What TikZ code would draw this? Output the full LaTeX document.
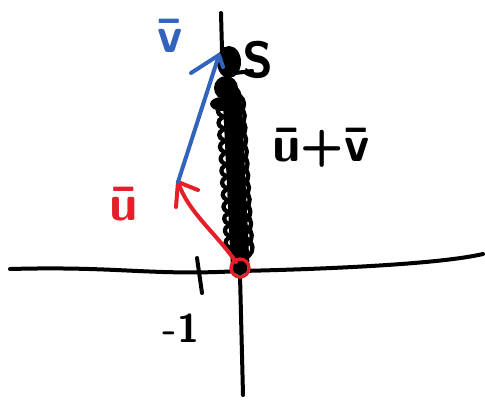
\documentclass[tikz,border=0pt]{standalone}
\usepackage{fontspec}
\usetikzlibrary{decorations.pathmorphing}
\begin{document}
\begin{tikzpicture}[x=0.75pt,y=-0.75pt,line cap=round,line join=round,
  ink/.style={line width=3pt},
  redink/.style={line width=3pt,draw={rgb,255:red,230;green,30;blue,40}},
  blueink/.style={line width=3pt,draw={rgb,255:red,50;green,100;blue,190}},
  lbl/.style={inner sep=0pt,font=\fontsize{38}{38}\selectfont\sffamily\bfseries}]
\definecolor{penred}{RGB}{230,30,40}
\definecolor{penblue}{RGB}{50,100,190}
\useasboundingbox (0,0) rectangle (485,401);
% axes
\coordinate (xl) at (10,269);
\coordinate (xr) at (483,254);
\coordinate (O) at (240,271);
\coordinate (yt) at (221,13);
\coordinate (yb) at (243,395);
\draw[ink] (xl) .. controls (120,266) and (150,276) .. (O) .. controls (330,269) and (440,264) .. (xr);
\draw[ink] (yt) -- (222,50);
\draw[ink] (240,275) -- (yb);
% tick
\coordinate (t1) at (197,258);
\coordinate (t2) at (202,293);
\draw[ink] (t1) -- (t2);
% scribble u+v
\coordinate (s1) at (232,95);
\coordinate (s2) at (240,262);
\draw[line width=14pt] (s1) -- (s2);
\draw[line width=3.2pt,decorate,decoration={coil,aspect=0.7,segment length=9pt,amplitude=10pt}] (230,92) -- (s2);
\fill (229,62) ellipse (12 and 16);
\fill (226,88) ellipse (12 and 12);
\fill (222,104) ellipse (12 and 7);
\draw[ink] (235,73) -- (252,71);
% red circle at origin
\fill (240,268) circle (7);
\draw[redink,line width=2.5pt] (240,268) circle (9);
% vector u (red)
\coordinate (ut) at (178,182);
\draw[redink] (236,262) .. controls (215,232) and (188,212) .. (ut);
\draw[redink] (176,207) -- (ut) -- (198,190);
% vector v (blue)
\coordinate (vt) at (219,55);
\draw[blueink] (ut) -- (vt);
\draw[blueink] (191,73) -- (vt) -- (223,67);
% labels
\node[lbl,text=penblue] (lv) at (170,36) {\=v};
\node[lbl,text=penred] (lu) at (124,204) {\=u};
\node[lbl] (lS) at (258,60) {S};
\node[lbl] (luv) at (321,148) {\=u+\=v};
\node[lbl,font=\fontsize{30}{30}\selectfont\sffamily\bfseries] (lm1) at (181,328) {-1};
\end{tikzpicture}
\end{document}
